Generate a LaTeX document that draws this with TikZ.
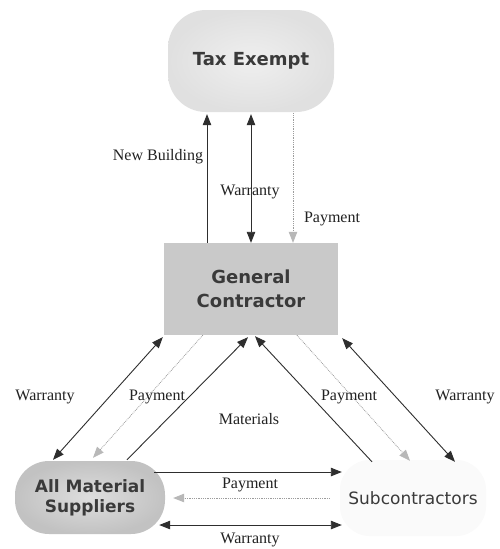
\documentclass[tikz,border=0pt]{standalone}
\usepackage{fontspec}
\setmainfont{Liberation Serif}
\newfontfamily\boxfont{DejaVu Sans}
\usetikzlibrary{arrows.meta,calc}
\definecolor{linec}{HTML}{2E2E2E}
\definecolor{dotc}{HTML}{9C9C9C}
\definecolor{dottip}{HTML}{B8B8B8}
\definecolor{textc}{HTML}{3A3A3A}
\definecolor{labc}{HTML}{222222}
\definecolor{gcfill}{HTML}{C9C9C9}
\definecolor{teinner}{HTML}{EFEFEF}
\definecolor{teouter}{HTML}{E0E0E0}
\definecolor{supinner}{HTML}{DEDEDE}
\definecolor{supouter}{HTML}{C2C2C2}
\definecolor{subfill}{HTML}{FAFAFA}
\begin{document}
\begin{tikzpicture}[x=1pt,y=-1pt,
  solidarrow/.style={draw=linec, line width=0.9pt, -{Triangle[length=11pt,width=8.5pt]}},
  botharrow/.style={draw=linec, line width=0.9pt, {Triangle[length=11pt,width=8.5pt]}-{Triangle[length=11pt,width=8.5pt]}},
  dotarrow/.style={draw=dotc, line width=0.8pt, densely dotted, -{Triangle[length=11pt,width=8.5pt,fill=dottip,color=dottip,sep=0pt]}},
  lab/.style={font=\fontsize{16}{18}\selectfont, text=labc, inner sep=0pt},
  tebox/.style={rounded corners=38pt, minimum width=166pt, minimum height=102pt, inner sep=0pt,
    shading=radial, inner color=teinner, outer color=teouter,
    font=\boxfont\bfseries\fontsize{18}{20}\selectfont, text=textc},
  gcbox/.style={rectangle, fill=gcfill, minimum width=174pt, minimum height=92pt, inner sep=0pt,
    align=center, font=\boxfont\bfseries\fontsize{18}{24}\selectfont, text=textc},
  supbox/.style={rounded corners=34pt, minimum width=150pt, minimum height=73pt, inner sep=0pt,
    shading=radial, inner color=supinner, outer color=supouter,
    align=center, font=\boxfont\bfseries\fontsize{17}{20}\selectfont, text=textc},
  subbox/.style={rounded corners=30pt, fill=subfill, minimum width=146pt, minimum height=76pt, inner sep=0pt,
    font=\boxfont\fontsize{17}{20}\selectfont, text=textc}]
\useasboundingbox[fill=white] (0,0) rectangle (499,549);

\node[tebox] (te) at (251,61) {Tax Exempt};
\node[gcbox] (gc) at (251,289) {General\\Contractor};
\node[supbox] (sup) at (90,497.5) {All Material\\Suppliers};
\node[subbox] (sub) at (413,498) {Subcontractors};

% vertical connectors
\draw[solidarrow] ($(gc.north)+(-44,0)$) -- ($(te.south)+(-44,2)$);
\draw[botharrow] ($(gc.north)+(0,0)$) -- ($(te.south)+(0,2)$);
\draw[dotarrow] ($(te.south)+(42,1)$) -- ($(gc.north)+(42,0)$);

% left diagonals
\draw[botharrow] ($(gc.south west)+(-1,2)$) -- ($(sup.north)+(-37,-1)$);
\draw[dotarrow] ($(gc.south west)+(39,0)$) -- ($(sup.north)+(3,-3)$);
\draw[solidarrow] ($(sup.north)+(37,-1)$) -- ($(gc.south)+(-3,2)$);

% right diagonals
\draw[solidarrow] ($(sub.north)+(-41,2)$) -- ($(gc.south)+(4,1)$);
\draw[dotarrow] ($(gc.south)+(46,0)$) -- ($(sub.north)+(-3,1)$);
\draw[botharrow] ($(gc.south east)+(4,3)$) -- ($(sub.north)+(42,2)$);

% horizontal connectors
\draw[solidarrow] ($(sup.east)+(-11,-25.5)$) -- ($(sub.west)+(2,-26)$);
\draw[dotarrow] ($(sub.west)+(-10,0)$) -- ($(sup.east)+(8,0.5)$);
\draw[botharrow] ($(sup.east)+(-6,27.5)$) -- ($(sub.west)+(2,27)$);

% labels
\node[lab] (l1) at (158,157) {New Building};
\node[lab] (l2) at (250,192) {Warranty};
\node[lab] (l3) at (332,219) {Payment};
\node[lab] (l4) at (45,397) {Warranty};
\node[lab] (l5) at (157,397) {Payment};
\node[lab] (l6) at (249,419) {Materials};
\node[lab] (l7) at (349,397) {Payment};
\node[lab] (l8) at (465,397) {Warranty};
\node[lab] (l9) at (250,485) {Payment};
\node[lab] (l10) at (250,540) {Warranty};
\end{tikzpicture}
\end{document}
